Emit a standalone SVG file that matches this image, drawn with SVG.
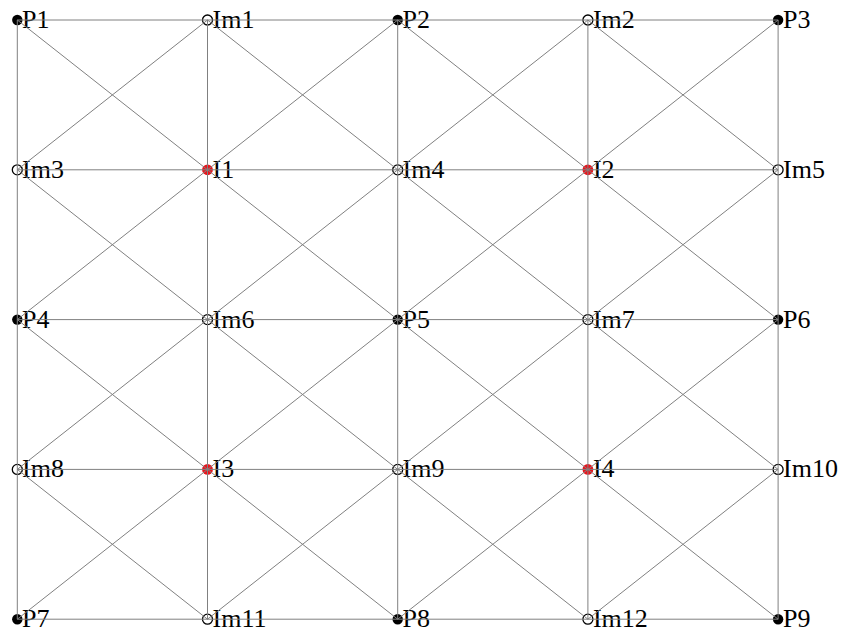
<svg xmlns="http://www.w3.org/2000/svg" width="845" height="632" viewBox="0 0 845 632">
<style>
.p{fill:#000}
.im{fill:none;stroke:#000;stroke-width:1.3}
.i{fill:#e8141c}
.e{stroke:#808080;stroke-width:1;fill:none}
text{font-family:"Liberation Serif","Times New Roman",serif;font-size:26px;fill:#000}
</style>
<rect width="845" height="632" fill="#fff"/>
<g id="P1"><circle class="p" cx="17.3" cy="20" r="5.2"/><text x="22" y="28">P1</text></g>
<g id="Im1"><circle class="im" cx="207.5" cy="20" r="5"/><text x="212.5" y="28">Im1</text></g>
<g id="P2"><circle class="p" cx="397.7" cy="20" r="5.2"/><text x="402.5" y="28">P2</text></g>
<g id="Im2"><circle class="im" cx="587.9" cy="20" r="5"/><text x="592.9" y="28">Im2</text></g>
<g id="P3"><circle class="p" cx="778.1" cy="20" r="5.2"/><text x="783" y="28">P3</text></g>

<g id="Im3"><circle class="im" cx="17.3" cy="169.8" r="5"/><text x="22" y="177.8">Im3</text></g>
<g id="I1"><circle class="i" cx="207.5" cy="169.8" r="5.4"/><text x="212.5" y="177.8">I1</text></g>
<g id="Im4"><circle class="im" cx="397.7" cy="169.8" r="5"/><text x="402.5" y="177.8">Im4</text></g>
<g id="I2"><circle class="i" cx="587.9" cy="169.8" r="5.4"/><text x="592.9" y="177.8">I2</text></g>
<g id="Im5"><circle class="im" cx="778.1" cy="169.8" r="5"/><text x="783" y="177.8">Im5</text></g>

<g id="P4"><circle class="p" cx="17.3" cy="319.6" r="5.2"/><text x="22" y="327.6">P4</text></g>
<g id="Im6"><circle class="im" cx="207.5" cy="319.6" r="5"/><text x="212.5" y="327.6">Im6</text></g>
<g id="P5"><circle class="p" cx="397.7" cy="319.6" r="5.2"/><text x="402.5" y="327.6">P5</text></g>
<g id="Im7"><circle class="im" cx="587.9" cy="319.6" r="5"/><text x="592.9" y="327.6">Im7</text></g>
<g id="P6"><circle class="p" cx="778.1" cy="319.6" r="5.2"/><text x="783" y="327.6">P6</text></g>

<g id="Im8"><circle class="im" cx="17.3" cy="469.4" r="5"/><text x="22" y="477.4">Im8</text></g>
<g id="I3"><circle class="i" cx="207.5" cy="469.4" r="5.4"/><text x="212.5" y="477.4">I3</text></g>
<g id="Im9"><circle class="im" cx="397.7" cy="469.4" r="5"/><text x="402.5" y="477.4">Im9</text></g>
<g id="I4"><circle class="i" cx="587.9" cy="469.4" r="5.4"/><text x="592.9" y="477.4">I4</text></g>
<g id="Im10"><circle class="im" cx="778.1" cy="469.4" r="5"/><text x="783" y="477.4">Im10</text></g>

<g id="P7"><circle class="p" cx="17.3" cy="619.2" r="5.2"/><text x="22" y="627.2">P7</text></g>
<g id="Im11"><circle class="im" cx="207.5" cy="619.2" r="5"/><text x="212.5" y="627.2">Im11</text></g>
<g id="P8"><circle class="p" cx="397.7" cy="619.2" r="5.2"/><text x="402.5" y="627.2">P8</text></g>
<g id="Im12"><circle class="im" cx="587.9" cy="619.2" r="5"/><text x="592.9" y="627.2">Im12</text></g>
<g id="P9"><circle class="p" cx="778.1" cy="619.2" r="5.2"/><text x="783" y="627.2">P9</text></g>

<g id="connectors" class="e">
<line x1="17.3" y1="20" x2="778.1" y2="20"/>
<line x1="17.3" y1="169.8" x2="778.1" y2="169.8"/>
<line x1="17.3" y1="319.6" x2="778.1" y2="319.6"/>
<line x1="17.3" y1="469.4" x2="778.1" y2="469.4"/>
<line x1="17.3" y1="619.2" x2="778.1" y2="619.2"/>
<line x1="17.3" y1="20" x2="17.3" y2="619.2"/>
<line x1="207.5" y1="20" x2="207.5" y2="619.2"/>
<line x1="397.7" y1="20" x2="397.7" y2="619.2"/>
<line x1="587.9" y1="20" x2="587.9" y2="619.2"/>
<line x1="778.1" y1="20" x2="778.1" y2="619.2"/>
<line x1="17.3" y1="20" x2="778.1" y2="619.2"/>
<line x1="207.5" y1="20" x2="778.1" y2="469.4"/>
<line x1="397.7" y1="20" x2="778.1" y2="319.6"/>
<line x1="587.9" y1="20" x2="778.1" y2="169.8"/>
<line x1="17.3" y1="169.8" x2="587.9" y2="619.2"/>
<line x1="17.3" y1="319.6" x2="397.7" y2="619.2"/>
<line x1="17.3" y1="469.4" x2="207.5" y2="619.2"/>
<line x1="207.5" y1="20" x2="17.3" y2="169.8"/>
<line x1="397.7" y1="20" x2="17.3" y2="319.6"/>
<line x1="587.9" y1="20" x2="17.3" y2="469.4"/>
<line x1="778.1" y1="20" x2="17.3" y2="619.2"/>
<line x1="778.1" y1="169.8" x2="207.5" y2="619.2"/>
<line x1="778.1" y1="319.6" x2="397.7" y2="619.2"/>
<line x1="778.1" y1="469.4" x2="587.9" y2="619.2"/>
</g>
</svg>
